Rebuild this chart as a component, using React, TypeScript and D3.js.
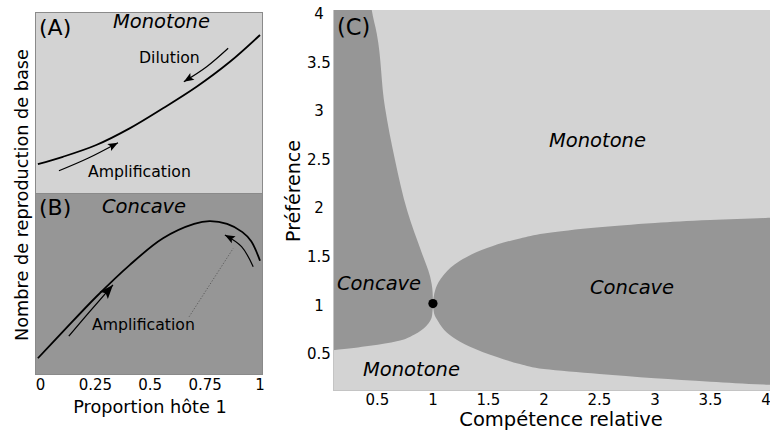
import React from "react";
import * as d3 from "d3";

// ---------- Data ----------
const pTicks = [0, 0.25, 0.5, 0.75, 1];
const pTickLabels = ["0", "0.25", "0.5", "0.75", "1"];
const cTicks = [0.5, 1, 1.5, 2, 2.5, 3, 3.5, 4];
const cTickLabels = ["0.5", "1", "1.5", "2", "2.5", "3", "3.5", "4"];

// Panel A (monotone) curve: [proportion, relative R0]
const curveA: [number, number][] = [
  [-0.012, 0.16], [0.102, 0.2], [0.254, 0.265], [0.406, 0.357],
  [0.558, 0.468], [0.711, 0.587], [0.863, 0.725], [1.0, 0.873],
];
const arrowDilutionA: [number, number][] = [[0.855, 0.8], [0.757, 0.698], [0.653, 0.615]];
const arrowAmplA: [number, number][] = [[0.084, 0.123], [0.216, 0.192], [0.353, 0.278]];

// Panel B (concave) curve
const curveB: [number, number][] = [
  [-0.012, 0.092], [0.102, 0.238], [0.254, 0.43], [0.406, 0.604],
  [0.558, 0.751], [0.7, 0.83], [0.77, 0.845], [0.85, 0.83],
  [0.92, 0.785], [0.96, 0.735], [1.0, 0.628],
];
const arrowAmplB: [number, number][] = [[0.129, 0.214], [0.224, 0.348], [0.33, 0.495]];
const arrowPeakB: [number, number][] = [[0.969, 0.595], [0.916, 0.705], [0.84, 0.769]];
const dottedB: [number, number][] = [[0.677, 0.32], [0.878, 0.696]];

// Panel C boundaries: [relative competence, preference]
const leftUpper: [number, number][] = [
  [0.44, 4.1], [0.449, 4.02], [0.494, 3.78], [0.568, 3.02], [0.658, 2.48],
  [0.77, 1.95], [0.9, 1.52], [0.974, 1.28], [0.997, 1.12], [1.0, 1.0],
];
const leftLower: [number, number][] = [
  [1.0, 1.0], [0.993, 0.88], [0.94, 0.77], [0.83, 0.68], [0.674, 0.612],
  [0.433, 0.565], [0.1, 0.52], [0.05, 0.515],
];
const rightUpper: [number, number][] = [
  [1.0, 1.0], [1.012, 1.1], [1.05, 1.22], [1.1, 1.3], [1.244, 1.44],
  [1.487, 1.571], [1.784, 1.67], [2.0, 1.72], [2.5, 1.785], [3.0, 1.83],
  [3.5, 1.86], [4.0, 1.88], [4.1, 1.885],
];
const rightLower: [number, number][] = [
  [1.0, 1.0], [1.01, 0.9], [1.045, 0.82], [1.127, 0.7], [1.334, 0.556],
  [1.577, 0.45], [1.784, 0.378], [2.0, 0.326], [2.5, 0.275], [3.0, 0.232],
  [3.5, 0.196], [4.0, 0.165], [4.1, 0.16],
];
const specialPoint: [number, number] = [1, 1];

// ---------- Styles ----------
const LIGHT = "#d3d3d3";
const DARK = "#969696";
const FONT = "DejaVu Sans, Liberation Sans, sans-serif";

export default function App() {
  const AB = { x0: 35, x1: 263 };
  const A = { y0: 12, y1: 193 };
  const B = { y0: 193, y1: 375 };
  const C = { x0: 333, x1: 770, y0: 10, y1: 391 };

  const px = d3.scaleLinear().domain([0, 1]).range([40.5, 260]);
  const ayS = d3.scaleLinear().domain([0, 1]).range([A.y1, A.y0]);
  const byS = d3.scaleLinear().domain([0, 1]).range([B.y1, B.y0]);
  const cx = d3.scaleLinear().domain([0.1, 4]).range([333, 766]);
  const cy = d3.scaleLinear().domain([0.1, 4]).range([391, 12]);

  const cr = d3.curveCatmullRom.alpha(0.5);
  const lineA = d3.line<[number, number]>().x(d => px(d[0])).y(d => ayS(d[1])).curve(cr);
  const lineB = d3.line<[number, number]>().x(d => px(d[0])).y(d => byS(d[1])).curve(cr);
  const lineC = d3.line<[number, number]>().x(d => cx(d[0])).y(d => cy(d[1])).curve(d3.curveMonotoneY);

  const seg = (pts: [number, number][], first: boolean) => {
    const s = lineC(pts) || "";
    return first ? s : "L" + s.slice(1);
  };
  const leftPath = seg(leftUpper, true) + seg(leftLower, false) + `L${cx(0.05)},${cy(4.1)}Z`;
  const rightPath = seg([...rightUpper].reverse(), true) + seg(rightLower, false) + "Z";

  return (
    <svg width={770} height={432} style={{ position: "absolute", left: 0, top: 0, fontFamily: FONT }}>
      <defs>
        <marker id="headS" viewBox="-11 -5 12 10" refX={0} refY={0} markerWidth={12} markerHeight={10}
          markerUnits="userSpaceOnUse" orient="auto">
          <path d="M0,0 L-10,-4 L-8,0 L-10,4 Z" fill="#000" />
        </marker>
        <marker id="headL" viewBox="-15 -6 16 12" refX={0} refY={0} markerWidth={16} markerHeight={12}
          markerUnits="userSpaceOnUse" orient="auto">
          <path d="M0,0 L-14,-5.5 L-11,0 L-14,5.5 Z" fill="#000" />
        </marker>
        <clipPath id="clipA"><rect x={AB.x0} y={A.y0} width={AB.x1 - AB.x0} height={A.y1 - A.y0} /></clipPath>
        <clipPath id="clipB"><rect x={AB.x0} y={B.y0} width={AB.x1 - AB.x0} height={B.y1 - B.y0} /></clipPath>
        <clipPath id="clipC"><rect x={C.x0} y={C.y0} width={C.x1 - C.x0} height={C.y1 - C.y0} /></clipPath>
      </defs>

      {/* Panel A */}
      <rect x={AB.x0} y={A.y0} width={AB.x1 - AB.x0} height={A.y1 - A.y0} fill={LIGHT} />
      <g clipPath="url(#clipA)">
        <path d={lineA(curveA) || ""} fill="none" stroke="#000" strokeWidth={1.8} />
        <path d={lineA(arrowDilutionA) || ""} fill="none" stroke="#000" strokeWidth={1.2} markerEnd="url(#headS)" />
        <path d={lineA(arrowAmplA) || ""} fill="none" stroke="#000" strokeWidth={1.2} markerEnd="url(#headS)" />
      </g>
      <rect x={AB.x0 + 0.5} y={A.y0 + 0.5} width={AB.x1 - AB.x0 - 1} height={A.y1 - A.y0} fill="none" stroke="#8a8a8a" strokeWidth={1} />
      <text x={39} y={35} fontSize={22}>(A)</text>
      <text x={113} y={28} fontSize={19.5} fontStyle="italic">Monotone</text>
      <text x={139} y={63} fontSize={15.7}>Dilution</text>
      <text x={88} y={177} fontSize={15.7}>Amplification</text>

      {/* Panel B */}
      <rect x={AB.x0} y={B.y0} width={AB.x1 - AB.x0} height={B.y1 - B.y0} fill={DARK} />
      <g clipPath="url(#clipB)">
        <path d={lineB(curveB) || ""} fill="none" stroke="#000" strokeWidth={1.8} />
        <path d={lineB(dottedB) || ""} fill="none" stroke="#555" strokeWidth={0.9} strokeDasharray="1.2,1.8" />
        <path d={lineB(arrowAmplB) || ""} fill="none" stroke="#000" strokeWidth={1.3} markerEnd="url(#headL)" />
        <path d={lineB(arrowPeakB) || ""} fill="none" stroke="#000" strokeWidth={1.2} markerEnd="url(#headS)" />
      </g>
      <rect x={AB.x0 + 0.5} y={B.y0 + 0.5} width={AB.x1 - AB.x0 - 1} height={B.y1 - B.y0 - 1} fill="none" stroke="#8a8a8a" strokeWidth={1} />
      <text x={39} y={215} fontSize={22}>(B)</text>
      <text x={102} y={213} fontSize={19.5} fontStyle="italic">Concave</text>
      <text x={92} y={330} fontSize={15.7}>Amplification</text>

      {/* A/B axes text */}
      {pTicks.map((t, i) => (
        <text key={"pt" + i} x={px(t)} y={390} fontSize={15} textAnchor="middle">{pTickLabels[i]}</text>
      ))}
      <text x={150} y={413} fontSize={17.7} textAnchor="middle">Proportion hôte 1</text>
      <text transform="translate(28,195) rotate(-90)" fontSize={17.7} textAnchor="middle">Nombre de reproduction de base</text>

      {/* Panel C */}
      <rect x={C.x0} y={C.y0} width={C.x1 - C.x0} height={C.y1 - C.y0} fill={LIGHT} />
      <g clipPath="url(#clipC)">
        <path d={leftPath} fill={DARK} stroke="none" />
        <path d={rightPath} fill={DARK} stroke="none" />
      </g>
      <line x1={C.x0 + 0.5} x2={C.x0 + 0.5} y1={C.y0} y2={C.y1} stroke="#c4c4c4" strokeWidth={1} />
      <line x1={C.x0} x2={C.x1} y1={C.y1 - 0.5} y2={C.y1 - 0.5} stroke="#c4c4c4" strokeWidth={1} />
      <circle cx={cx(specialPoint[0])} cy={cy(specialPoint[1])} r={4.6} fill="#000" />

      <text x={337} y={35} fontSize={22.5}>(C)</text>
      <text x={549} y={147} fontSize={19.5} fontStyle="italic">Monotone</text>
      <text x={590} y={294} fontSize={19.5} fontStyle="italic">Concave</text>
      <text x={337} y={290} fontSize={19.5} fontStyle="italic">Concave</text>
      <text x={363} y={376} fontSize={19.5} fontStyle="italic">Monotone</text>

      {cTicks.map((t, i) => (
        <text key={"cx" + i} x={cx(t)} y={405} fontSize={15} textAnchor="middle">{cTickLabels[i]}</text>
      ))}
      {cTicks.map((t, i) => (
        <text key={"cy" + i} x={319} y={cy(t) + 2} fontSize={15} textAnchor="middle" dominantBaseline="central">{cTickLabels[i]}</text>
      ))}
      <text x={561} y={426} fontSize={19.5} textAnchor="middle">Compétence relative</text>
      <text transform="translate(300,191) rotate(-90)" fontSize={19} textAnchor="middle">Préférence</text>
    </svg>
  );
}
